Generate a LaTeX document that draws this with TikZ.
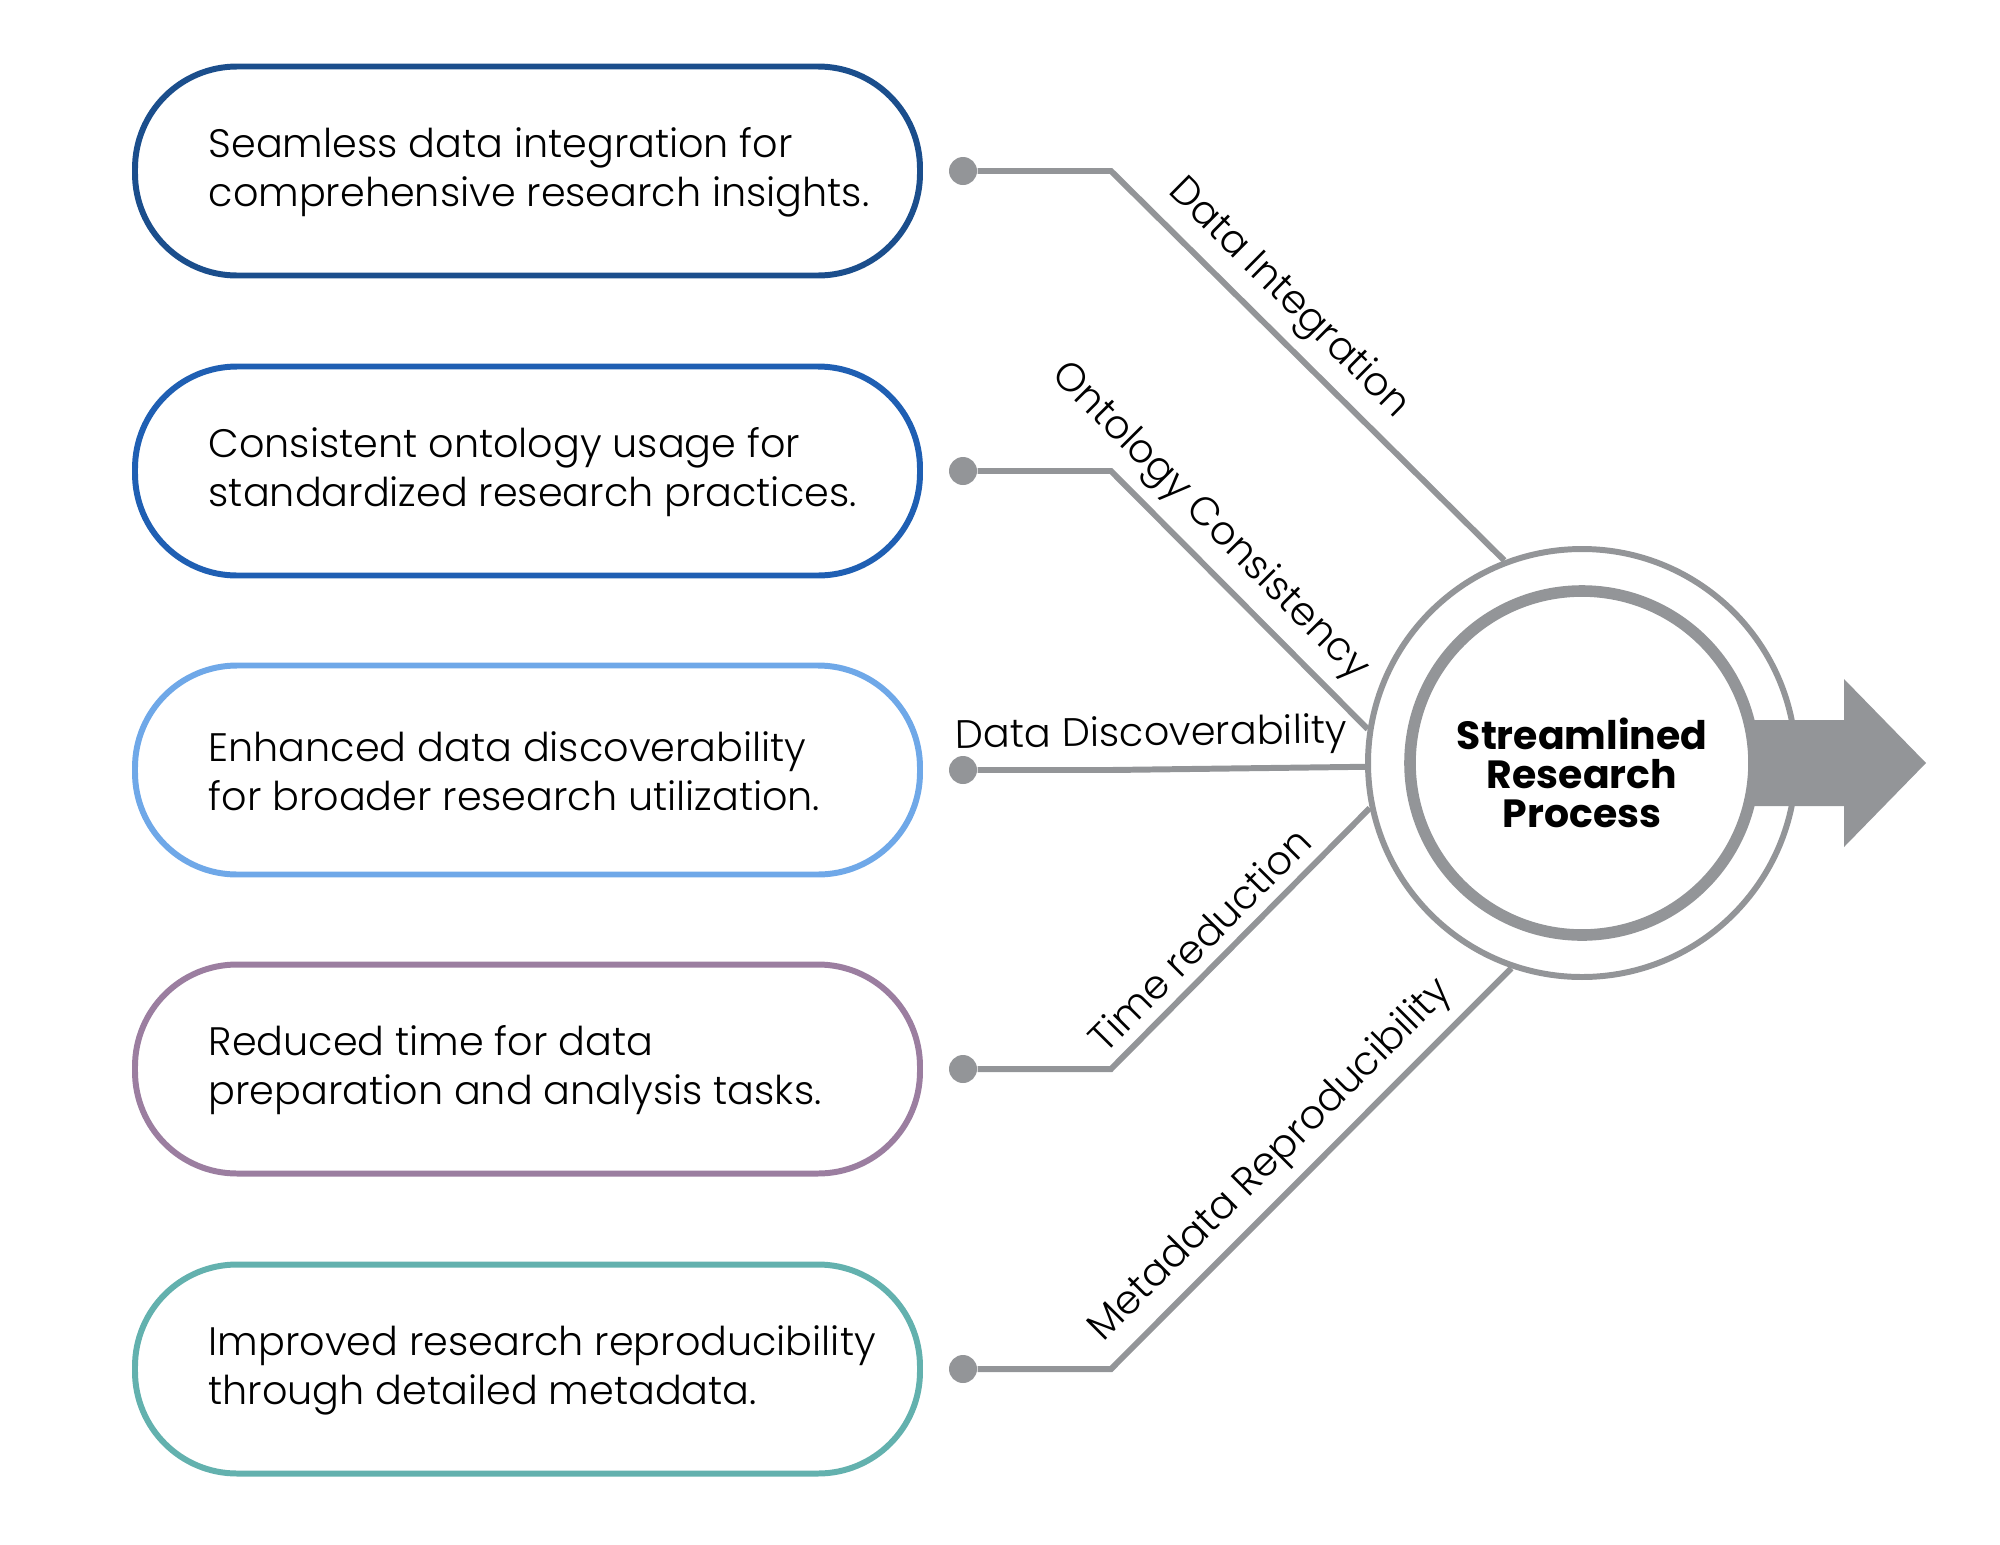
\documentclass[tikz,border=0pt]{standalone}
\usepackage{fontspec}
\setmainfont{Poppins}[UprightFont=* Light,BoldFont=* Bold]
\usetikzlibrary{positioning,calc}
\definecolor{navy}{HTML}{1B4E8C}
\definecolor{royal}{HTML}{1F5FB3}
\definecolor{sky}{HTML}{6FA8E8}
\definecolor{mauve}{HTML}{9B7EA0}
\definecolor{seagreen}{HTML}{63B1AE}
\definecolor{steel}{HTML}{939598}

\begin{document}
\begin{tikzpicture}
    \tikzset{
      pill/.style={draw=#1,line width=1.7pt,rounded corners=1.02cm,minimum width=7.85cm,minimum height=2.09cm},
      blurb/.style={align=left,font=\fontsize{11.3}{13.9}\selectfont,inner sep=0pt},
      dot/.style={circle,fill=steel,minimum size=0.28cm,inner sep=0pt},
      conn/.style={draw=steel,line width=1.7pt},
      tag/.style={font=\fontsize{11.3}{13.4}\selectfont,sloped,above,inner sep=3pt},
      ring/.style={circle,draw=steel,line width=1.7pt,minimum size=4.28cm,inner sep=0pt},
      core/.style={circle,draw=steel,fill=white,line width=3.3pt,minimum size=3.44cm,inner sep=0pt},
      title/.style={align=center,font=\bfseries\fontsize{11.2}{11.1}\selectfont}
    }
    \useasboundingbox (0,0) rectangle (20,-15.44);
    % hub with outgoing arrow
    \node[ring] (proc) at (15.82,-7.63) {};
    \fill[steel] ($(proc.center)+(1.6,0.43)$) -- ($(proc.center)+(2.62,0.43)$) -- ++(0,0.41)
      -- ($(proc.center)+(3.44,0)$) -- ($(proc.center)+(2.62,-0.84)$) -- ++(0,0.41)
      -- ($(proc.center)+(1.6,-0.43)$) -- cycle;
    \node[core] (hub) at (proc.center) {};
    \node[title] (hubtxt) at ($(hub.center)+(0,-0.1)$) {Streamlined\\Research\\Process};
    % benefit boxes and their links
    \foreach \n/\y/\c/\ang/\p/\lab/\txt in {
      1/1.71/navy/111.4/.39/Data Integration/{Seamless data integration for\\comprehensive research insights.},
      2/4.71/royal/171.4/.29/Ontology Consistency/{Consistent ontology usage for\\standardized research practices.},
      3/7.70/sky/181.9/.16/Data Discoverability/{Enhanced data discoverability\\for broader research utilization.},
      4/10.69/mauve/192.3/.42/Time reduction/{Reduced time for data\\preparation and analysis tasks.},
      5/13.69/seagreen/251.3/.46/Metadata Reproducibility/{Improved research reproducibility\\through detailed metadata.}} {
      \node[pill=\c] (box\n) at (5.275,-\y) {};
      \node[blurb,anchor=west] (txt\n) at (2.08,-\y-0.01) {\txt};
      \node[dot] (dot\n) at (9.63,-\y) {};
      \coordinate (knee\n) at (11.11,-\y);
      \draw[conn] (dot\n) -- (knee\n) -- node[tag,pos=\p] (lab\n) {\lab} (proc.\ang);
    }
  \end{tikzpicture}
\end{document}
